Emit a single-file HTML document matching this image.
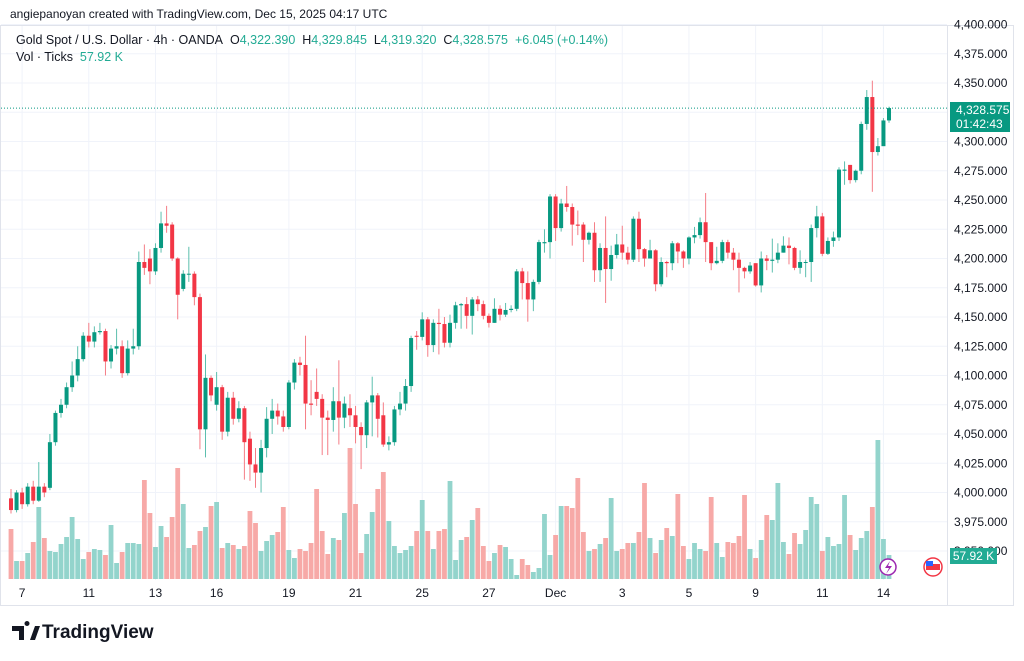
<!DOCTYPE html>
<html><head><meta charset="utf-8">
<style>
body{margin:0;background:#fff;width:1024px;height:661px;overflow:hidden;font-family:"Liberation Sans",sans-serif;}
#wrap{position:relative;width:1024px;height:661px;}
.t{position:absolute;white-space:nowrap;color:#131722;}
.g{color:#22ab94;}
</style></head><body>
<div id="wrap">
<div class="t" style="left:10px;top:7px;font-size:12px;">angiepanoyan created with TradingView.com, Dec 15, 2025 04:17 UTC</div>
<svg id="chart" width="1024" height="661" style="position:absolute;left:0;top:0"></svg>
<div class="t" style="left:16px;top:33px;font-size:12.5px;">Gold Spot / U.S. Dollar · 4h · OANDA&nbsp; O<span class="g">4,322.390</span>&nbsp; H<span class="g">4,329.845</span>&nbsp; L<span class="g">4,319.320</span>&nbsp; C<span class="g">4,328.575</span>&nbsp; <span class="g">+6.045 (+0.14%)</span></div>
<div class="t" style="left:16px;top:50px;font-size:12.5px;">Vol · Ticks&nbsp; <span class="g">57.92 K</span></div>
<div class="t" style="left:950px;top:102px;width:60px;height:30px;background:#089981;color:#fff;font-size:12px;line-height:14px;padding-left:6px;box-sizing:border-box;padding-top:1px">4,328.575<br>01:42:43</div>
<div class="t" style="left:950px;top:548px;width:47px;height:16px;background:#22ab94;color:#fff;font-size:12px;line-height:16px;text-align:center">57.92 K</div>
<div class="t" style="left:42px;top:622px;font-size:19px;font-weight:bold;color:#131722">TradingView</div>
</div>
<script>
const opens=[3995,3985,4000,3990,4005,3993,4005,4004,4043,4068,4075,4090,4100,4114,4134,4129,4137,4138,4112,4123,4125,4102,4123,4125,4197,4200,4189,4209,4230,4229,4200,4174,4187,4187,4167,4054,4098,4075,4090,4052,4081,4063,4072,4046,4024,4017,4038,4063,4070,4065,4056,4094,4111,4109,4076,4086,4080,4064,4062,4078,4064,4072,4066,4056,4049,4077,4083,4066,4041,4043,4071,4076,4091,4134,4133,4148,4126,4145,4144,4128,4145,4160,4161,4151,4165,4161,4151,4145,4157,4152,4156,4157,4189,4179,4165,4180,4213,4214,4253,4226,4247,4244,4229,4229,4216,4222,4190,4209,4191,4203,4212,4205,4199,4234,4208,4200,4207,4178,4197,4196,4213,4206,4200,4218,4220,4231,4214,4196,4198,4214,4205,4199,4192,4189,4196,4177,4200,4198,4199,4205,4211,4209,4192,4197,4197,4226,4236,4204,4215,4218,4275,4280,4267,4275,4315,4338,4291,4296,4318];
const closes=[3985,4000,3990,4005,3993,4005,4000,4043,4068,4075,4090,4100,4114,4134,4129,4137,4138,4112,4123,4125,4102,4123,4125,4197,4192,4189,4209,4230,4228,4200,4169,4187,4187,4167,4054,4098,4083,4090,4052,4081,4063,4072,4043,4024,4017,4038,4063,4070,4065,4056,4094,4111,4109,4076,4075,4080,4064,4062,4078,4064,4076,4066,4056,4049,4077,4083,4063,4041,4043,4071,4076,4091,4132,4133,4148,4126,4145,4144,4128,4145,4160,4161,4151,4165,4161,4151,4145,4157,4152,4156,4157,4189,4179,4165,4180,4214,4214,4253,4226,4247,4244,4229,4228,4216,4222,4190,4209,4191,4203,4212,4205,4199,4234,4208,4200,4207,4178,4197,4196,4213,4206,4200,4218,4220,4231,4214,4196,4198,4214,4205,4199,4192,4189,4194,4177,4200,4198,4199,4205,4211,4209,4192,4197,4197,4226,4236,4204,4215,4218,4276,4276,4267,4275,4315,4338,4291,4296,4318,4328.575];
const highs=[4003,4002,4004,4008,4010,4026,4008,4050,4070,4080,4094,4112,4125,4137,4145,4142,4145,4140,4126,4140,4130,4130,4140,4206,4212,4208,4213,4240,4245,4231,4201,4190,4210,4189,4170,4118,4100,4103,4092,4086,4086,4078,4074,4052,4038,4045,4073,4080,4076,4070,4096,4114,4116,4134,4096,4106,4084,4070,4090,4113,4082,4084,4074,4060,4079,4099,4085,4077,4048,4074,4086,4097,4134,4138,4154,4150,4148,4157,4150,4152,4163,4162,4167,4167,4168,4164,4153,4166,4160,4162,4160,4191,4192,4189,4182,4216,4225,4255,4255,4251,4262,4247,4241,4231,4223,4231,4213,4236,4211,4221,4228,4210,4236,4240,4209,4216,4208,4201,4198,4215,4214,4207,4219,4227,4235,4256,4214,4210,4216,4216,4209,4205,4193,4197,4196,4206,4203,4217,4213,4219,4218,4210,4207,4199,4229,4245,4239,4218,4223,4278,4283,4280,4276,4317,4344,4352,4303,4320,4329.8];
const lows=[3982,3983,3986,3988,3990,3992,3996,4002,4040,4064,4072,4086,4095,4112,4124,4124,4135,4100,4106,4118,4098,4100,4118,4122,4186,4178,4186,4205,4222,4198,4148,4172,4180,4160,4037,4030,4078,4070,4045,4048,4058,4060,4011,4010,4004,4000,4030,4050,4058,4052,4054,4088,4100,4054,4066,4074,4032,4032,4052,4041,4055,4056,4042,4020,4038,4048,4047,4039,4036,4040,4066,4070,4086,4122,4130,4116,4120,4118,4124,4124,4140,4140,4140,4135,4155,4148,4141,4145,4147,4150,4154,4155,4165,4146,4155,4178,4205,4200,4215,4223,4240,4211,4220,4197,4212,4180,4180,4162,4181,4200,4199,4195,4197,4197,4193,4200,4172,4176,4184,4190,4196,4192,4195,4213,4217,4197,4190,4195,4196,4200,4190,4171,4183,4187,4176,4171,4190,4188,4196,4205,4195,4190,4187,4184,4180,4218,4202,4203,4210,4215,4263,4264,4265,4272,4310,4257,4288,4300,4316];
const volumes=[50,18,18,26,37,72,41,28,27,35,42,62,40,20,27,30,29,24,54,16,27,36,36,35,99,66,32,53,42,62,111,75,31,34,48,52,73,77,31,36,34,30,33,68,56,28,38,44,47,72,29,21,30,28,36,90,48,25,41,39,66,131,75,26,45,67,90,107,58,33,26,29,33,48,79,48,30,48,50,98,19,39,42,59,71,33,18,26,34,32,20,4,20,14,7,11,65,24,44,73,73,71,101,47,28,30,35,41,81,28,30,36,36,47,96,41,26,39,51,43,85,33,20,36,30,28,82,36,22,37,36,43,84,30,21,39,64,59,96,37,25,46,35,49,82,75,28,42,33,35,84,44,29,41,48,72,139,40,24];
const priceTicks=[4400,4375,4350,4325,4300,4275,4250,4225,4200,4175,4150,4125,4100,4075,4050,4025,4000,3975,3950];
const dayLabels=["7","11","13","16","19","21","25","27","Dec","3","5","9","11","14"];
const dayIndex=[2,14,26,37,50,62,74,86,98,110,122,134,146,157];

const svg=document.getElementById('chart');
const NS='http://www.w3.org/2000/svg';
function yP(p){return 492.5-(p-4000)*1.17;}
function xI(i){return 11+i*5.557;}
function yV(v){return 579-v;}
function mk(tag,at,parent){const e=document.createElementNS(NS,tag);for(const k in at)e.setAttribute(k,at[k]);(parent||svg).appendChild(e);return e;}
// frame
let fr=mk('rect',{x:0.5,y:25.5,width:1013,height:580,fill:'none',stroke:'#e0e3eb'});


let sep=mk('line',{x1:947.5,y1:25,x2:947.5,y2:605,stroke:'#e0e3eb'});


// grid + price labels
priceTicks.forEach(p=>{
  const y=yP(p);
  const gl=mk('line',{x1:1,y1:y,x2:947,y2:y,stroke:'#f0f3fa'});
  
  
  if(y>22){
  const t=mk('text',{x:954,y:y+4,'font-size':'12','fill':'#131722','font-family':'Liberation Sans, sans-serif'});
  t.textContent=p.toLocaleString('en-US')+'.000';
  
  
  }
});
dayLabels.forEach((d,k)=>{
  const x=xI(dayIndex[k]);
  const gl=mk('line',{x1:x,y1:26,x2:x,y2:580,stroke:'#f0f3fa'});
  
  
  const t=mk('text',{x:x,y:597,'font-size':'12','fill':'#131722','text-anchor':'middle','font-family':'Liberation Sans, sans-serif'});
  t.textContent=d;
  
  
});
// volume bars
volumes.forEach((v,i)=>{
  const up=closes[i]>=opens[i];
  const b=mk('rect',{x:xI(i)-2.4,y:yV(v),width:4.8,height:v,fill:up?'#93d4cc':'#f7a9a7'});
  
  
});
// candles
closes.forEach((c,i)=>{
  const o=opens[i],up=c>=o,col=up?'#089981':'#f23645';
  const x=xI(i);
  const w=mk('line',{x1:x,y1:yP(highs[i]),x2:x,y2:yP(lows[i]),stroke:up?'#5cbfae':'#f57d86','stroke-width':1});
  
  
  const top=yP(Math.max(o,c)),h=Math.max(1,Math.abs(yP(o)-yP(c)));
  const b=mk('rect',{x:x-2,y:top,width:4,height:h,fill:col});
  
  
});
// last price line
const lp=mk('line',{x1:1,y1:yP(closes[closes.length-1]),x2:947,y2:yP(closes[closes.length-1]),stroke:'#089981','stroke-dasharray':'1 2'});


// icons
const ic=mk('circle',{cx:888,cy:567,r:8,fill:'#fff',stroke:'#9c27b0','stroke-width':1.5});


const bolt=mk('path',{d:'M890 561 L885 568 L889 568 L886 574 L892 566 L888 566 Z',fill:'#9c27b0'});


const fl=mk('circle',{cx:933,cy:567,r:9,fill:'#fff',stroke:'#f23645','stroke-width':1.5});


const st=mk('rect',{x:926,y:564,width:14,height:6,fill:'#f23645'});


const cn=mk('rect',{x:926,y:561,width:7,height:5,fill:'#2962ff'});


// logo mark
const lg=mk('path',{d:'M12 626 H24 V640 H19 V631 H12 Z M27 626 A2.5 2.5 0 1 1 27.01 626 Z M30 640 L35 626 H40 L35 640 Z',fill:'#131722'});


</script>
</body></html>
